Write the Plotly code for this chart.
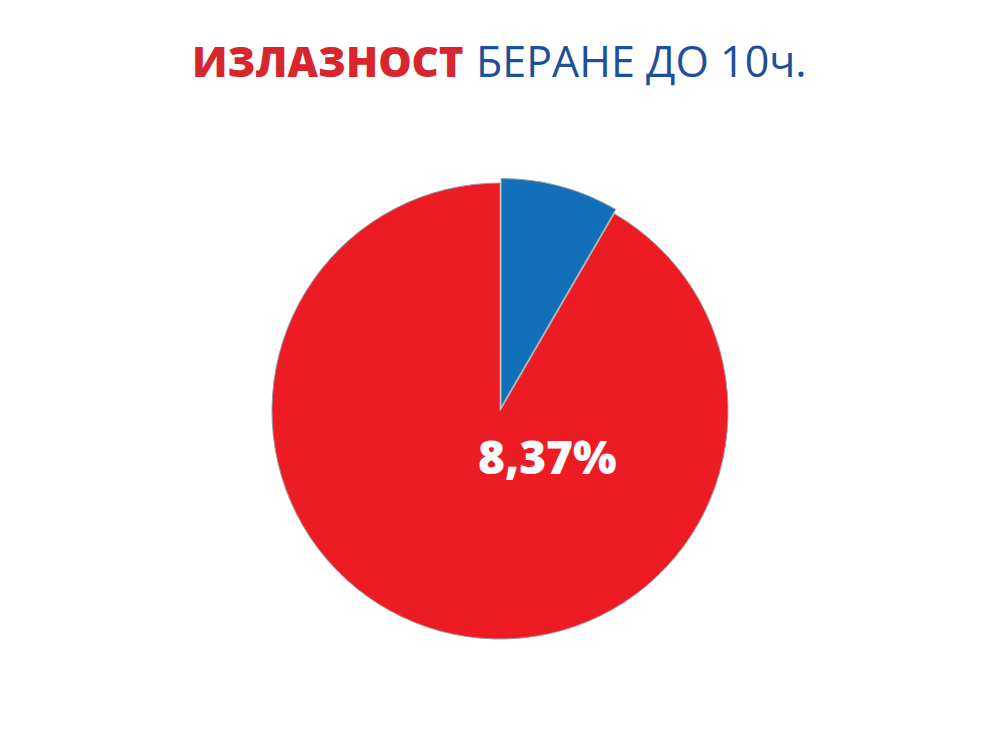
import plotly.graph_objects as go

labels = ["Изашло", "Није изашло"]
values = [8.37, 91.63]
colors = ["#1170B8", "#ED1C24"]
pulls = [0.02, 0]
title_red = "ИЗЛАЗНОСТ"
title_blue = "БЕРАНЕ ДО 10ч."
label_text = "8,37%"

W, H = 1000, 750
OFF = 8  # page body margin in the browser


def px(x):
    return (x - OFF) / W


def py(y):
    return 1 - (y - OFF) / H


fig = go.Figure()
cx, cy, r = 500, 411, 228 * 1.02
fig.add_trace(go.Pie(
    labels=labels, values=values, sort=False, direction="clockwise", rotation=0,
    marker=dict(colors=colors, line=dict(color="#9a9a9a", width=1)),
    pull=pulls, textinfo="none", hoverinfo="label+percent", showlegend=False,
    domain=dict(x=[px(cx - r), px(cx + r)], y=[py(cy + r), py(cy - r)]),
))

fig.add_annotation(
    x=px(466), y=py(61), xref="paper", yref="paper", showarrow=False,
    xanchor="right", yanchor="middle", text=title_red,
    font=dict(family="Open Sans, sans-serif", size=42, color="#D7262D", weight=800),
)
fig.add_annotation(
    x=px(474), y=py(61), xref="paper", yref="paper", showarrow=False,
    xanchor="left", yanchor="middle", text=title_blue,
    font=dict(family="Open Sans, sans-serif", size=43, color="#1E4F9D", weight=400),
)
fig.add_annotation(
    x=px(547), y=py(456), xref="paper", yref="paper", showarrow=False,
    xanchor="center", yanchor="middle", text=label_text,
    font=dict(family="Open Sans, sans-serif", size=46, color="white", weight=800),
)

fig.update_layout(
    width=W, height=H, margin=dict(l=0, r=0, t=0, b=0),
    paper_bgcolor="white", plot_bgcolor="white",
)
fig.write_html("out.html")
